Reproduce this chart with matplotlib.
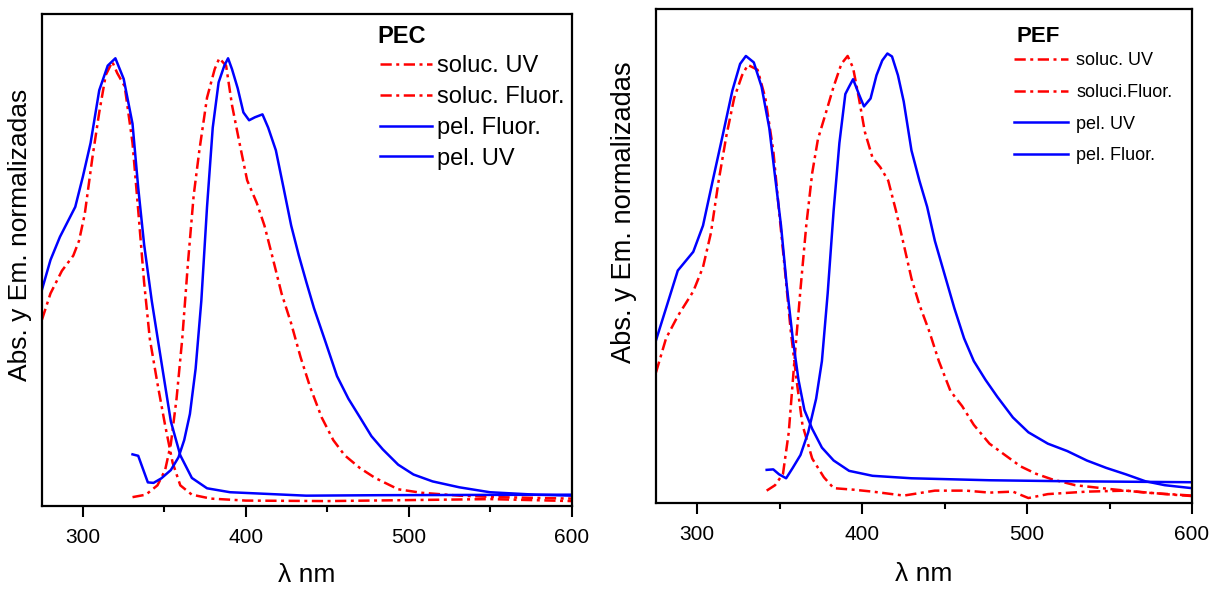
import matplotlib
matplotlib.use("Agg")
import matplotlib.pyplot as plt
from matplotlib.ticker import MultipleLocator

plt.rcParams['font.family'] = ['Liberation Sans', 'DejaVu Sans']

# ---------------- PEC (left) ----------------
pec_pel_uv_x = [275, 280.2, 286, 295.4, 300.1, 304.8, 310.1, 315.3, 320, 325.1, 330.5, 334.0,
                337.6, 342.3, 348.1, 354.0, 359.8, 366.9, 376.2, 390.3, 437, 484, 600]
pec_pel_uv_y = [0.44, 0.50, 0.547, 0.608, 0.67, 0.738, 0.845, 0.895, 0.91, 0.868, 0.777, 0.647,
                0.532, 0.417, 0.295, 0.172, 0.103, 0.057, 0.036, 0.028, 0.021, 0.022, 0.023]

pec_sol_uv_x = [275, 280.2, 287.2, 294.2, 297.7, 301.2, 305.9, 310.1, 314.1, 318.1, 321.1, 325.7,
                330.5, 334.0, 337.6, 341.1, 345.8, 350.5, 355.1, 359.8, 366.9, 378.6, 400, 450, 500, 550, 600]
pec_sol_uv_y = [0.379, 0.432, 0.478, 0.509, 0.539, 0.593, 0.708, 0.80, 0.876, 0.903, 0.88, 0.853,
                0.738, 0.601, 0.455, 0.34, 0.249, 0.164, 0.088, 0.042, 0.023, 0.015, 0.011, 0.010,
                0.012, 0.014, 0.010]

pec_sol_fl_x = [330.5, 338.7, 345.8, 350.5, 354.0, 357.5, 361.0, 364.5, 368.0, 371.5, 376.2, 380.9,
                383.7, 387.9, 391.5, 396.1, 400.8, 406.7, 411.4, 416.1, 421.9, 427.8, 433.6, 439.5,
                446.5, 453.6, 460.6, 470.0, 479.3, 493.4, 507.4, 530.9, 554.3, 600]
pec_sol_fl_y = [0.018, 0.023, 0.042, 0.073, 0.126, 0.218, 0.34, 0.494, 0.631, 0.723, 0.83, 0.888,
                0.91, 0.895, 0.815, 0.738, 0.662, 0.616, 0.57, 0.509, 0.432, 0.371, 0.302, 0.241,
                0.18, 0.134, 0.103, 0.077, 0.057, 0.034, 0.027, 0.021, 0.018, 0.015]

pec_pel_fl_x = [330.5, 334.0, 336.4, 339.9, 343.4, 348.1, 354.0, 358.7, 362.2, 365.7, 369.2, 372.7,
                376.2, 379.7, 383.3, 386.8, 389.1, 391.5, 395.0, 398.5, 402.0, 405.5, 410.2, 413.7,
                418.4, 423.1, 427.8, 432.5, 437.1, 441.8, 448.9, 455.9, 462.9, 470.0, 477.0, 484.0,
                493.4, 502.8, 514.5, 530.9, 549.6, 577.7, 600]
pec_pel_fl_y = [0.105, 0.102, 0.080, 0.048, 0.047, 0.056, 0.073, 0.099, 0.134, 0.187, 0.279, 0.417,
                0.608, 0.769, 0.861, 0.895, 0.91, 0.888, 0.849, 0.80, 0.784, 0.790, 0.796, 0.769,
                0.723, 0.647, 0.57, 0.509, 0.455, 0.402, 0.333, 0.264, 0.218, 0.18, 0.142, 0.115,
                0.084, 0.064, 0.05, 0.038, 0.028, 0.023, 0.021]

# ---------------- PEF (right) ----------------
pef_pel_uv_x = [275, 281.1, 288.2, 297.6, 303.5, 309.4, 315.4, 321.3, 326.0, 329.5, 334.3, 339.0,
                343.7, 347.2, 350.8, 354.3, 357.9, 361.4, 365.0, 369.7, 375.6, 382.7, 392.1, 406.3,
                429.9, 477.2, 524.4, 600]
pef_pel_uv_y = [0.329, 0.394, 0.470, 0.508, 0.561, 0.652, 0.743, 0.834, 0.888, 0.904, 0.891, 0.842,
                0.758, 0.660, 0.561, 0.439, 0.333, 0.249, 0.188, 0.150, 0.112, 0.086, 0.065, 0.055,
                0.050, 0.046, 0.044, 0.042]

pef_sol_uv_x = [275, 281.1, 288.2, 297.6, 303.5, 308.3, 313.0, 317.7, 322.4, 327.2, 330.7, 336.6,
                341.3, 346.1, 349.6, 353.2, 356.7, 360.2, 363.8, 369.7, 376.8, 382.7, 394.5, 406.3,
                425.2, 444.1, 463.0, 477.2, 491.4, 500.8, 512.6, 536.2, 559.9, 583.5, 600]
pef_sol_uv_y = [0.264, 0.333, 0.378, 0.428, 0.477, 0.546, 0.652, 0.743, 0.819, 0.865, 0.886, 0.876,
                0.819, 0.713, 0.591, 0.470, 0.348, 0.249, 0.158, 0.090, 0.052, 0.030, 0.027, 0.023,
                0.015, 0.025, 0.025, 0.021, 0.023, 0.010, 0.018, 0.023, 0.025, 0.018, 0.014]

pef_sol_fl_x = [342.1, 347.2, 352.0, 355.5, 359.1, 362.6, 366.1, 369.7, 373.2, 378.0, 382.7, 387.4,
                391.2, 394.5, 398.0, 401.6, 406.3, 411.0, 415.8, 420.5, 425.2, 429.9, 434.7, 440.6,
                446.5, 453.6, 460.6, 467.7, 477.2, 486.6, 496.1, 505.5, 515.0, 529.2, 548.0, 571.7, 600]
pef_sol_fl_y = [0.025, 0.036, 0.059, 0.143, 0.295, 0.432, 0.561, 0.667, 0.736, 0.789, 0.842, 0.888,
                0.904, 0.880, 0.819, 0.751, 0.698, 0.679, 0.652, 0.591, 0.523, 0.454, 0.401, 0.348,
                0.287, 0.226, 0.196, 0.158, 0.120, 0.097, 0.074, 0.059, 0.048, 0.036, 0.029, 0.021, 0.015]

pef_pel_fl_x = [342.1, 346.1, 349.6, 353.9, 357.9, 362.6, 367.3, 372.1, 375.6, 379.1, 382.7, 386.2,
                389.8, 392.1, 394.5, 398.0, 401.1, 405.1, 408.7, 412.2, 415.3, 418.1, 421.7, 425.2,
                429.9, 434.7, 439.4, 444.1, 450.0, 455.9, 461.8, 467.7, 474.8, 481.9, 491.4, 500.8,
                512.6, 524.4, 536.2, 548.0, 559.9, 571.7, 583.5, 600]
pef_pel_fl_y = [0.067, 0.068, 0.058, 0.050, 0.071, 0.097, 0.143, 0.211, 0.287, 0.424, 0.591, 0.728,
                0.827, 0.842, 0.857, 0.827, 0.802, 0.818, 0.865, 0.895, 0.909, 0.903, 0.865, 0.812,
                0.713, 0.652, 0.599, 0.530, 0.462, 0.394, 0.333, 0.287, 0.249, 0.215, 0.173, 0.143,
                0.120, 0.105, 0.086, 0.071, 0.058, 0.044, 0.036, 0.030]

xticks = [300, 400, 500, 600]
xlabel = "λ nm"
ylabel = "Abs. y Em. normalizadas"
title_left = "PEC"
title_right = "PEF"

RED = "#ff0000"
BLUE = "#0000ff"
DASHDOT = (0, (4.5, 1.8, 1.2, 1.8))

W, H = 1211, 589
fig = plt.figure(figsize=(W / 100, H / 100), dpi=100)

ax1 = fig.add_axes([42 / W, (H - 506) / H, (572 - 42) / W, (506 - 14) / H])
ax2 = fig.add_axes([656 / W, (H - 503) / H, (1192 - 656) / W, (503 - 8.5) / H])


def style(ax, ylabpad, ylab_y, ylab_size, xlabpad):
    ax.set_xlim(275, 600)
    ax.set_ylim(0, 1)
    ax.set_xticks(xticks)
    ax.xaxis.set_minor_locator(MultipleLocator(50))
    ax.set_yticks([])
    ax.tick_params(axis='x', which='major', direction='out', length=8, width=1.5,
                   labelsize=15, pad=8, top=False)
    ax.tick_params(axis='x', which='minor', direction='out', length=4.5, width=1.5, top=False)
    for s in ax.spines.values():
        s.set_linewidth(1.6)
    ax.set_xlabel(xlabel, fontsize=19, labelpad=xlabpad)
    ax.set_ylabel(ylabel, fontsize=ylab_size, labelpad=ylabpad)
    ax.yaxis.label.set_y(ylab_y)


# Left panel
ax1.plot(pec_sol_uv_x, pec_sol_uv_y, color=RED, lw=1.8, ls=DASHDOT, label="soluc. UV")
ax1.plot(pec_sol_fl_x, pec_sol_fl_y, color=RED, lw=1.8, ls=DASHDOT, label="soluc. Fluor.")
ax1.plot(pec_pel_fl_x, pec_pel_fl_y, color=BLUE, lw=1.8, label="pel. Fluor.")
ax1.plot(pec_pel_uv_x, pec_pel_uv_y, color=BLUE, lw=1.8, label="pel. UV")
style(ax1, 7, 0.551, 19, 11)
ax1.legend(loc='upper left', bbox_to_anchor=(0.638, 0.916), frameon=False,
           fontsize=17, handlelength=2.2, handletextpad=0.22,
           labelspacing=0.37, borderaxespad=0, borderpad=0)
ax1.text(0.632, 0.955, title_left, transform=ax1.transAxes, fontsize=17,
         fontweight='bold', ha='left', va='center')

# Right panel
ax2.plot(pef_sol_uv_x, pef_sol_uv_y, color=RED, lw=1.8, ls=DASHDOT, label="soluc. UV")
ax2.plot(pef_sol_fl_x, pef_sol_fl_y, color=RED, lw=1.8, ls=DASHDOT, label="soluci.Fluor.")
ax2.plot(pef_pel_uv_x, pef_pel_uv_y, color=BLUE, lw=1.8, label="pel. UV")
ax2.plot(pef_pel_fl_x, pef_pel_fl_y, color=BLUE, lw=1.8, label="pel. Fluor.")
style(ax2, 14, 0.588, 19.6, 13)
ax2.legend(loc='upper left', bbox_to_anchor=(0.668, 0.912), frameon=False,
           fontsize=13, handlelength=3.0, handletextpad=0.45,
           labelspacing=0.82, borderaxespad=0, borderpad=0)
ax2.text(0.673, 0.944, title_right, transform=ax2.transAxes, fontsize=16,
         fontweight='bold', ha='left', va='center')

fig.savefig("out.png", dpi=100)
